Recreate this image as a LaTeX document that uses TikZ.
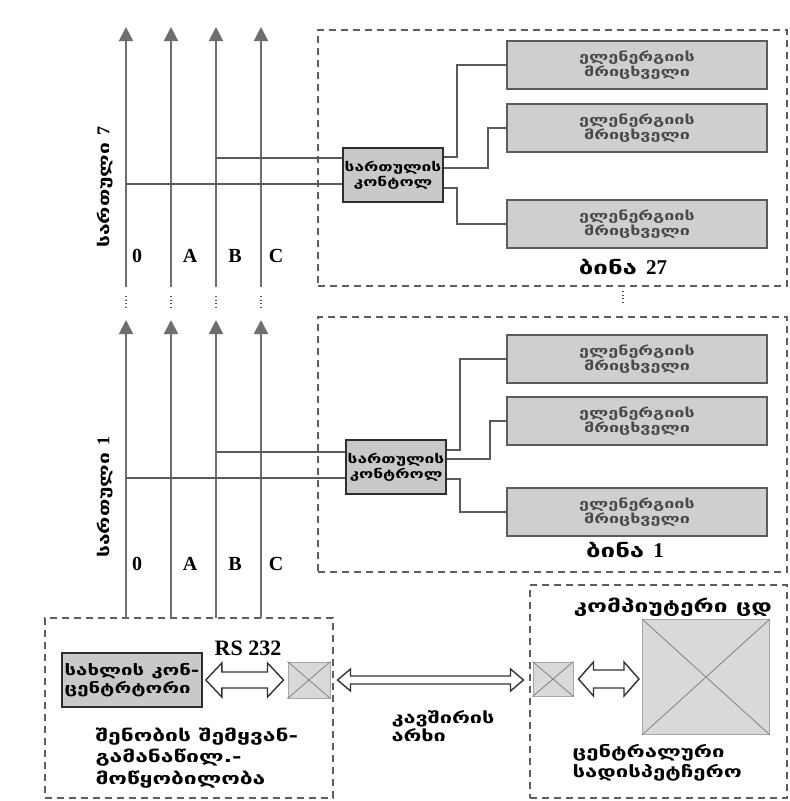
\documentclass[tikz,border=0pt]{standalone}
\usepackage{fontspec}
\setmainfont{Liberation Serif}
\newfontfamily\geo[FakeStretch=1.4]{DejaVu Sans}
\usetikzlibrary{arrows.meta,calc}
\definecolor{wirec}{HTML}{5A5A5A}
\definecolor{busc}{HTML}{6E6E6E}
\definecolor{zonec}{HTML}{5E5E5E}
\definecolor{meterd}{HTML}{5C5C5C}
\definecolor{meterf}{HTML}{CFCFCF}
\definecolor{metertext}{HTML}{4A4A4A}
\definecolor{ctrld}{HTML}{2E2E2E}
\definecolor{ctrlf}{HTML}{C9C9C9}
\definecolor{xd}{HTML}{A8A8A8}
\definecolor{xf}{HTML}{D9D9D9}
\definecolor{xl}{HTML}{8A8A8A}
\newcommand\blockarrow[5]{%
  \draw[harrow] let \p1=(#1), \p2=(#2) in
    (\x1,\y1) -- (\x1+#5,\y1+#4) -- (\x1+#5,\y1+#3) -- (\x2-#5,\y1+#3)
    -- (\x2-#5,\y1+#4) -- (\x2,\y1) -- (\x2-#5,\y1-#4) -- (\x2-#5,\y1-#3)
    -- (\x1+#5,\y1-#3) -- (\x1+#5,\y1-#4) -- cycle;}
\begin{document}
\begin{tikzpicture}[x=1pt,y=-1pt,
  wire/.style={draw=wirec, line width=1.4pt},
  bus/.style={draw=busc, line width=2pt, -{Triangle[width=14pt,length=14pt]}},
  zone/.style={draw=zonec, line width=1.2pt, dash pattern=on 7pt off 5pt, inner sep=0pt, outer sep=0pt},
  meter/.style={draw=meterd, fill=meterf, line width=2pt, minimum width=260pt, minimum height=48pt,
    inner sep=0pt, font=\geo\bfseries\fontsize{12.8}{15.5}\selectfont, text=metertext, align=center},
  ctrl/.style={draw=ctrld, fill=ctrlf, line width=1.6pt, minimum width=100pt, minimum height=54pt,
    inner sep=0pt, font=\geo\bfseries\fontsize{12.4}{15}\selectfont, align=center},
  xbox/.style={draw=xd, fill=xf, line width=1pt, inner sep=0pt},
  xline/.style={draw=xl, line width=0.9pt},
  harrow/.style={draw=black!80, fill=white, line width=1.4pt, line join=miter},
  lbl/.style={font=\bfseries\fontsize{20}{22}\selectfont},
  geotext/.style={font=\geo\bfseries\fontsize{16.3}{21.5}\selectfont},
  dots/.style={draw=black!70, line width=1.3pt, dash pattern=on 1.3pt off 2.2pt},
]
\useasboundingbox (0,0) rectangle (790,801);
\fill[white] (0,0) rectangle (790,801);

% zones
\node[zone, minimum width=469pt, minimum height=256pt] (zone7) at (552.5,158) {};
\node[zone, minimum width=469pt, minimum height=255pt] (zone1) at (552.5,444.5) {};
\node[zone, minimum width=288pt, minimum height=180pt] (zoneL) at (189,708) {};
\node[zone, minimum width=257pt, minimum height=213pt] (zoneR) at (658.5,691.5) {};

% bus coordinates
\coordinate (b0) at (126,0);
\coordinate (bA) at (171,0);
\coordinate (bB) at (216,0);
\coordinate (bC) at (261,0);

% buses
\foreach \b in {b0,bA,bB,bC}{
  \draw[bus] (\b |- zoneL.north) -- (\b |- 0,320);
  \draw[bus] (\b |- 0,287) -- (\b |- 0,27);
  \draw[dots] (\b |- 0,296) -- (\b |- 0,308);
}
\draw[dots] (623,291) -- (623,303);

% bus labels
\foreach \n/\x in {0/137,A/190,B/235,C/276}{
  \node[lbl] (lt\n) at (\x,256) {\n};
  \node[lbl] (lb\n) at (\x,564) {\n};
}
\node[font=\geo\bfseries\fontsize{15}{17}\selectfont, rotate=90] (fl7) at (105,187) {სართული {\rmfamily\fontsize{18}{20}\selectfont 7}};
\node[font=\geo\bfseries\fontsize{15}{17}\selectfont, rotate=90] (fl1) at (105,497) {სართული {\rmfamily\fontsize{18}{20}\selectfont 1}};

% ----- floor 7
\node[meter] (m7a) at (637,65) {ელენერგიის\\მრიცხველი};
\node[meter] (m7b) at (637,128) {ელენერგიის\\მრიცხველი};
\node[meter] (m7c) at (637,224) {ელენერგიის\\მრიცხველი};
\node[ctrl] (c7) at (393,175) {სართულის\\კონტოლ};
\node[font=\geo\bfseries\fontsize{18.5}{20}\selectfont] (apt27) at (623,267) {ბინა {\rmfamily\fontsize{21}{22}\selectfont 27}};

\draw[wire] (b0 |- 0,184) -- (c7.west |- 0,184);
\draw[wire] (bB |- 0,158) -- (c7.west |- 0,158);
\draw[wire] ([yshift=18pt]c7.east) -- ++(13pt,0pt) |- (m7a.west);
\draw[wire] ([yshift=7pt]c7.east) -- ++(44pt,0pt) |- (m7b.west);
\draw[wire] ([yshift=-13pt]c7.east) -- ++(13pt,0pt) |- (m7c.west);

% ----- floor 1
\node[meter] (m1a) at (637,359) {ელენერგიის\\მრიცხველი};
\node[meter] (m1b) at (637,421) {ელენერგიის\\მრიცხველი};
\node[meter] (m1c) at (637,512) {ელენერგიის\\მრიცხველი};
\node[ctrl] (c1) at (396,467) {სართულის\\კონტროლ};
\node[font=\geo\bfseries\fontsize{18.5}{20}\selectfont] (apt1) at (625,550) {ბინა {\rmfamily\fontsize{21}{22}\selectfont 1}};

\draw[wire] (b0 |- 0,478) -- (c1.west |- 0,478);
\draw[wire] (bB |- 0,452) -- (c1.west |- 0,452);
\draw[wire] ([yshift=17pt]c1.east) -- ++(13pt,0pt) |- (m1a.west);
\draw[wire] ([yshift=8pt]c1.east) -- ++(43pt,0pt) |- (m1b.west);
\draw[wire] ([yshift=-12pt]c1.east) -- ++(13pt,0pt) |- (m1c.west);

% ----- building device
\node[ctrl, minimum width=140pt, minimum height=54pt, align=left,
  font=\geo\bfseries\fontsize{14.6}{17.5}\selectfont] (conc) at (132,680) {სახლის კონ-\\ცენტრტორი};
\node[font=\bfseries\fontsize{22}{24}\selectfont] (rs) at (248,648) {RS 232};
\node[xbox, minimum width=42pt, minimum height=36pt] (rsx) at (309,680) {};
\draw[xline] (rsx.north west) -- (rsx.south east) (rsx.north east) -- (rsx.south west);
\blockarrow{$(conc.east)+(3pt,0pt)$}{$(rsx.west)+(-4pt,0pt)$}{8pt}{17pt}{16pt}
\node[geotext, align=left, anchor=west] (bldtxt) at (92,758) {შენობის შემყვან-\\გამანაწილ.-\\მოწყობილობა};

% ----- channel
\node[xbox, minimum width=40pt, minimum height=34pt] (pcx) at (553,679) {};
\draw[xline] (pcx.north west) -- (pcx.south east) (pcx.north east) -- (pcx.south west);
\blockarrow{$(rsx.east)+(7pt,0pt)$}{$(pcx.west)+(-9pt,0pt)$}{4pt}{11pt}{13pt}
\node[font=\geo\bfseries\fontsize{15.5}{18.5}\selectfont, align=left, anchor=west] (chan) at (388,726) {კავშირის\\არხი};

% ----- dispatch
\node[xbox, minimum width=127pt, minimum height=115pt] (srv) at (706,677) {};
\draw[xline] (srv.north west) -- (srv.south east) (srv.north east) -- (srv.south west);
\blockarrow{$(pcx.east)+(5pt,0pt)$}{$(srv.west)+(-3pt,0pt)$}{9pt}{17pt}{15pt}
\node[font=\geo\bfseries\fontsize{17.5}{20}\selectfont, anchor=west] (pc) at (570,607) {კომპიუტერი ცდ};
\node[font=\geo\bfseries\fontsize{15.8}{20}\selectfont, align=left, anchor=west] (disp) at (569,763) {ცენტრალური\\სადისპეტჩერო};
\end{tikzpicture}
\end{document}
